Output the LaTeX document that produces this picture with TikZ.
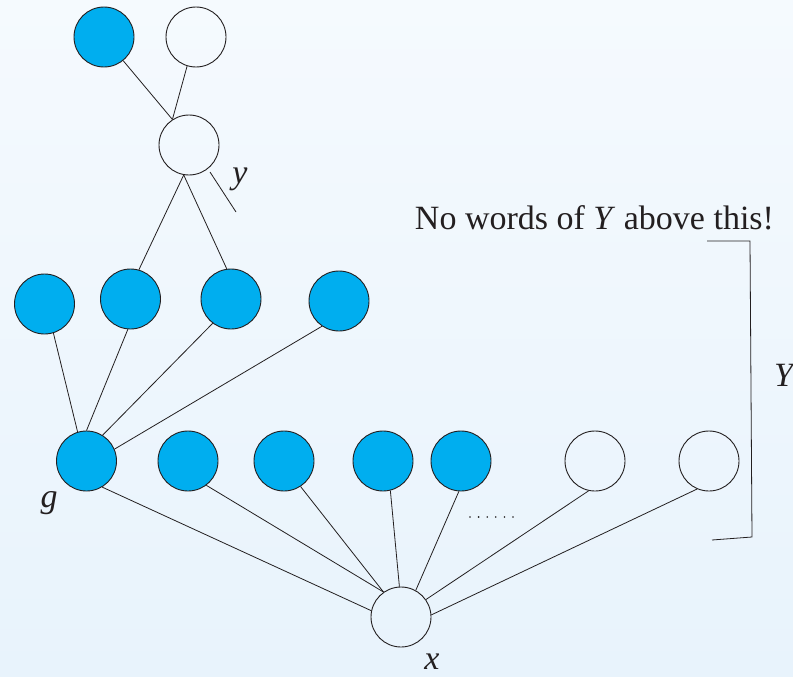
\documentclass[tikz,border=0pt]{standalone}
\usepackage{fontspec}
\setmainfont{Liberation Serif}
\definecolor{nodeblue}{RGB}{0,174,239}
\definecolor{edgec}{RGB}{35,31,32}
\definecolor{bgtop}{RGB}{245,250,254}
\definecolor{bgbot}{RGB}{232,243,252}
\begin{document}
\begin{tikzpicture}[x=1pt,y=-1pt,
  vtx/.style={circle,draw=edgec,line width=0.9pt,minimum size=60pt,inner sep=0pt},
  full/.style={vtx,fill=nodeblue},
  hollow/.style={vtx},
  conn/.style={draw=edgec,line width=0.8pt},
  lbl/.style={font=\fontsize{34}{40}\selectfont\itshape,inner sep=0pt,text=edgec},
  txt/.style={font=\fontsize{34}{40}\selectfont,inner sep=0pt,text=edgec},
]
\shade[top color=bgtop,bottom color=bgbot] (0,0) rectangle (793,677);
\useasboundingbox (0,0) rectangle (793,677);
% nodes
\node[full]   (A1) at (104,37) {};
\node[hollow] (A2) at (196,37) {};
\node[hollow] (NY) at (189,145) {};
\node[full] (B1) at (44.5,304) {};
\node[full] (B2) at (130.5,299) {};
\node[full] (B3) at (231,299) {};
\node[full] (B4) at (339,301) {};
\node[full] (G)  at (86.5,461) {};
\node[full] (C2) at (188,461) {};
\node[full] (C3) at (284,461) {};
\node[full] (C4) at (383,461) {};
\node[full] (C5) at (461,461) {};
\node[hollow] (W1) at (595,461) {};
\node[hollow] (W2) at (709,461) {};
\node[hollow] (X) at (401,617) {};
% edges
\draw[conn] (A1.-51) -- (NY.123);
\draw[conn] (A2.-107) -- (NY.123);
\draw[conn] (NY.260) -- (B2.74);
\draw[conn] (NY.260) -- (B3.98);
\draw[conn] (B1.287) -- (G.107);
\draw[conn] (B2.265) -- (G.90);
\draw[conn] (B3.233) -- (G.58);
\draw[conn] (B4.236) -- (G.23);
\draw[conn] (G.301) -- (X.168);
\draw[conn] (C2.307) -- (X.125);
\draw[conn] (C3.303) -- (X.125);
\draw[conn] (C4.284) -- (X.93);
\draw[conn] (C5.266) -- (X.61);
\draw[conn] (W1.258) -- (X.35);
\draw[conn] (W2.247) -- (X.4);
% tick near y
\coordinate (t1) at (210,172);
\coordinate (t2) at (236,212);
\draw[conn] (t1) -- (t2);
% bracket
\coordinate (k1) at (707,241);
\coordinate (k2) at (750,241);
\coordinate (k3) at (752,537);
\coordinate (k4) at (712,540);
\draw[conn] (k1) -- (k2) -- (k3) -- (k4);
% dots
\foreach \i in {0,...,5} \fill[edgec] (470+8.6*\i,517) circle (0.9);
% labels
\node[lbl] (ly) at (240,179) {y};
\node[lbl] (lg) at (49,503) {g};
\node[lbl] (lx) at (432,662) {x};
\node[lbl,anchor=west] (lY) at (774,375) {Y};
\node[txt,anchor=base] (note) at (594.5,229) {No words of \textit{Y} above this!};
\end{tikzpicture}
\end{document}
